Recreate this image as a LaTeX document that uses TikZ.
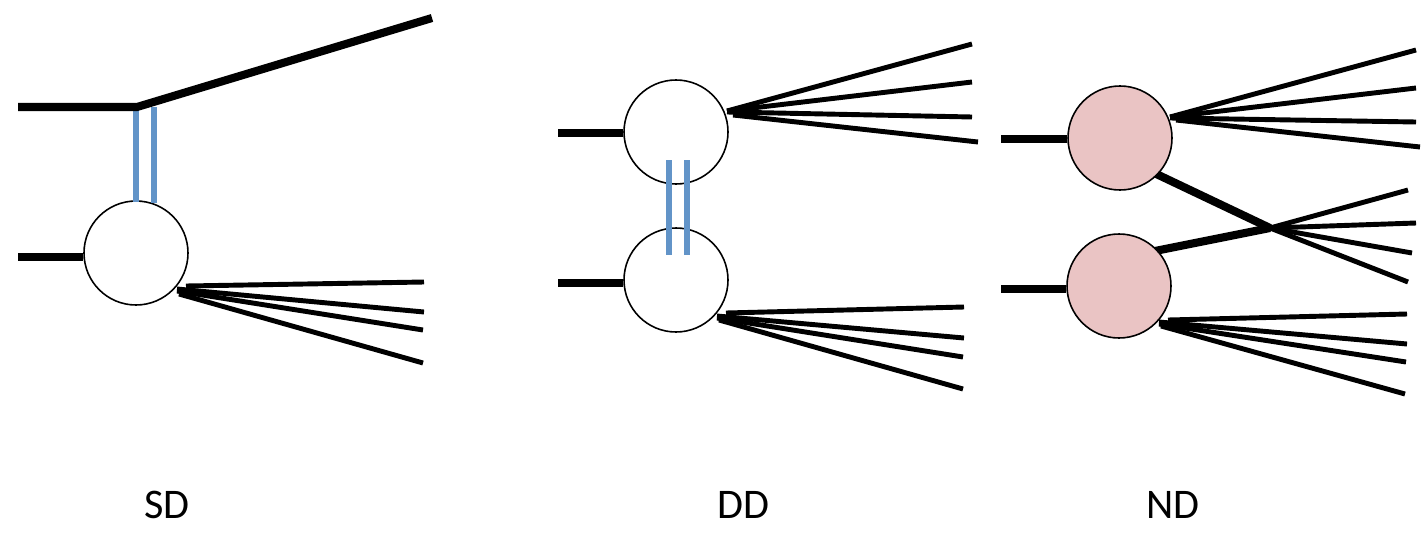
\documentclass[tikz,border=0pt]{standalone}
\usepackage{fontspec}
\setmainfont{Carlito}
\definecolor{blob}{RGB}{234,196,196}
\definecolor{pom}{RGB}{98,148,200}
\tikzset{
  blobw/.style={circle,draw=black,line width=0.9pt,fill=white,minimum size=104*0.02cm,inner sep=0pt},
  blobp/.style={blobw,fill=blob},
  thickline/.style={line width=4.6pt},
  fanline/.style={line width=2.8pt},
  pomeron/.style={draw=pom,line width=3pt},
  lbl/.style={font=\fontsize{24}{28}\selectfont,inner sep=0pt}
}
\begin{document}
\begin{tikzpicture}[x=0.02cm,y=-0.02cm]
\useasboundingbox (0,0) rectangle (1422,534);
% ---------- SD ----------
\coordinate (sdin) at (18,107);
\coordinate (sdv) at (137,107);
\coordinate (sdout) at (432,18);
\node[blobw] (sdc) at (136,253) {};
\coordinate (sdcin) at (18,257);
\draw[pomeron] (136,107) -- (136,202);
\draw[pomeron] (154,107) -- (154,203);
\draw[thickline] (sdin) -- (sdv) -- (sdout);
\draw[thickline] (sdcin) -- (sdc.west |- sdcin);
\coordinate (sdf1) at (424,282);
\coordinate (sdf2) at (424,312);
\coordinate (sdf3) at (423,330);
\coordinate (sdf4) at (423,363);
\draw[fanline] (186,286) -- (sdf1);
\draw[fanline] (177,289) -- (sdf2);
\draw[fanline] (177,291) -- (sdf3);
\draw[fanline] (179,294) -- (sdf4);
% ---------- DD ----------
\node[blobw] (ddu) at (676,132) {};
\node[blobw] (ddl) at (676,280) {};
\coordinate (dduin) at (558,133);
\coordinate (ddlin) at (558,283);
\draw[thickline] (dduin) -- (ddu.west |- dduin);
\draw[thickline] (ddlin) -- (ddl.west |- ddlin);
\draw[pomeron] (669,160) -- (669,255);
\draw[pomeron] (687,160) -- (687,255);
\coordinate (ddu1) at (972,44);
\coordinate (ddu2) at (972,82);
\coordinate (ddu3) at (972,117);
\coordinate (ddu4) at (978,142);
\draw[fanline] (727,111) -- (ddu1);
\draw[fanline] (727,111) -- (ddu2);
\draw[fanline] (727,112) -- (ddu3);
\draw[fanline] (733,115) -- (ddu4);
\coordinate (ddl1) at (964,307);
\coordinate (ddl2) at (964,338);
\coordinate (ddl3) at (963,357);
\coordinate (ddl4) at (963,389);
\draw[fanline] (726,313) -- (ddl1);
\draw[fanline] (717,316) -- (ddl2);
\draw[fanline] (717,318) -- (ddl3);
\draw[fanline] (719,320) -- (ddl4);
% ---------- ND ----------
\coordinate (ndx) at (1270,228);
\draw[thickline] (1150,171) -- (ndx);
\draw[thickline] (1150,252) -- (ndx);
\node[blobp] (ndu) at (1120,138) {};
\node[blobp] (ndl) at (1119,286) {};
\coordinate (nduin) at (1001,139);
\coordinate (ndlin) at (1001,289);
\draw[thickline] (nduin) -- (ndu.west |- nduin);
\draw[thickline] (ndlin) -- (ndl.west |- ndlin);
\coordinate (ndu1) at (1416,50);
\coordinate (ndu2) at (1416,88);
\coordinate (ndu3) at (1416,122);
\coordinate (ndu4) at (1420,147);
\draw[fanline] (1170,117) -- (ndu1);
\draw[fanline] (1170,117) -- (ndu2);
\draw[fanline] (1170,118) -- (ndu3);
\draw[fanline] (1176,120) -- (ndu4);
\coordinate (ndx1) at (1408,190);
\coordinate (ndx2) at (1416,223);
\coordinate (ndx3) at (1412,253);
\coordinate (ndx4) at (1408,282);
\draw[fanline] (ndx) -- (ndx1);
\draw[fanline] (ndx) -- (ndx2);
\draw[fanline] (ndx) -- (ndx3);
\draw[fanline] (ndx) -- (ndx4);
\coordinate (ndl1) at (1407,314);
\coordinate (ndl2) at (1407,344);
\coordinate (ndl3) at (1406,362);
\coordinate (ndl4) at (1405,394);
\draw[fanline] (1168,320) -- (ndl1);
\draw[fanline] (1159,322) -- (ndl2);
\draw[fanline] (1159,324) -- (ndl3);
\draw[fanline] (1161,326) -- (ndl4);
% ---------- labels ----------
\node[lbl] (tsd) at (167,505) {SD};
\node[lbl] (tdd) at (743,505) {DD};
\node[lbl] (tnd) at (1173,505) {ND};
\end{tikzpicture}
\end{document}
